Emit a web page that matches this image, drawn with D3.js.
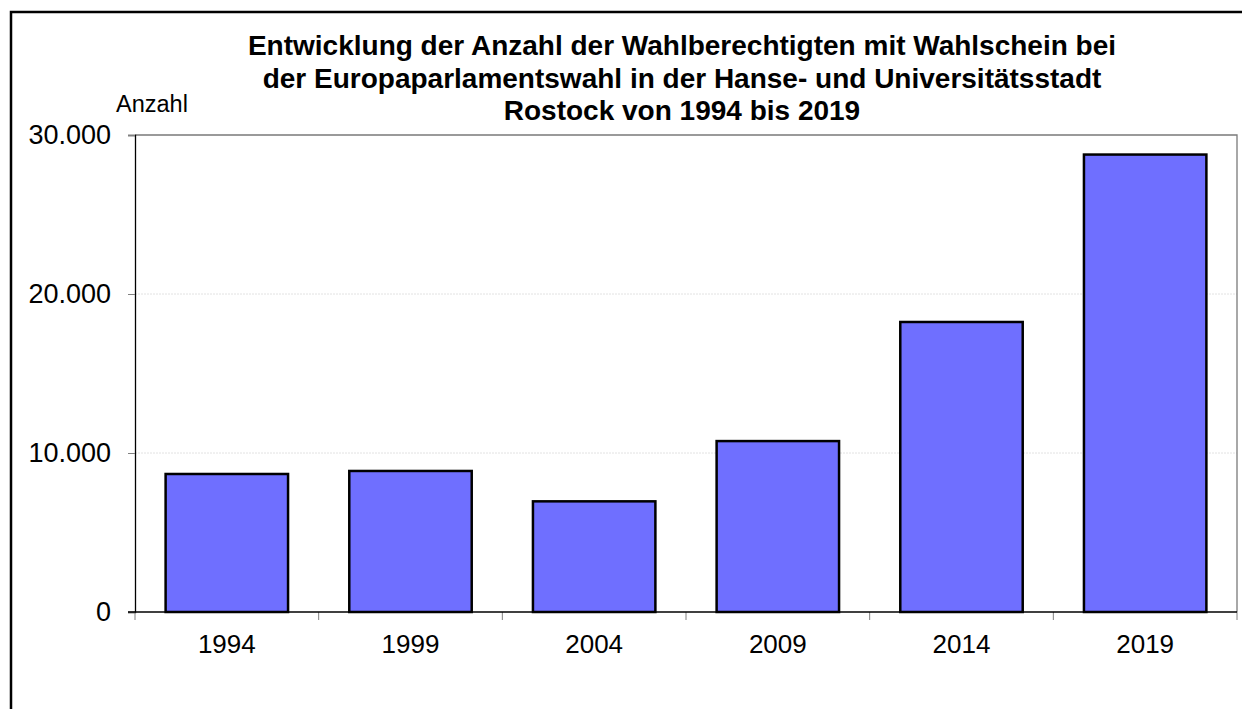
<!DOCTYPE html>
<html>
<head>
<meta charset="utf-8" />
<title>Wahlscheine Europawahl Rostock</title>
<style>
  body { margin: 0; background: #fff; }
  svg { display: block; font-family: "Liberation Sans", Arial, sans-serif; }
  .bar { fill: #6f6fff; stroke: #000; stroke-width: 2.5; }
  .grid line { stroke: #e2e2e2; stroke-dasharray: 2,1; }
  .axis text { fill: #000; }
  .y.axis text { font-size: 27px; }
  .x.axis text { font-size: 26px; }
</style>
</head>
<body>
<div id="chart"></div>
<script src="https://cdn.jsdelivr.net/npm/d3@7"></script>
<script>
// data
var years = ["1994", "1999", "2004", "2009", "2014", "2019"];
var values = [8680, 8870, 6960, 10750, 18240, 28770];
var yTicks = [0, 10000, 20000, 30000];
var titleLines = [
  "Entwicklung der Anzahl der Wahlberechtigten mit Wahlschein bei",
  "der Europaparlamentswahl in der Hanse- und Universitätsstadt",
  "Rostock von 1994 bis 2019"
];

var W = 1242, H = 709;
var plot = {left: 135, top: 135, right: 1237, bottom: 612};

var de = d3.formatLocale({decimal: ",", thousands: ".", grouping: [3], currency: ["", " €"]});
var fmt = de.format(",");

var svg = d3.select("#chart").append("svg")
    .attr("width", W)
    .attr("height", H);

// outer frame (runs off the picture on right and bottom)
svg.append("rect")
    .attr("x", 11).attr("y", 12)
    .attr("width", 1300).attr("height", 800)
    .attr("fill", "none")
    .attr("stroke", "#000")
    .attr("stroke-width", 2.5);

var x = d3.scaleBand()
    .domain(years)
    .range([plot.left, plot.right])
    .paddingInner(1 / 3)
    .paddingOuter(1 / 6);

var xEdge = d3.scaleBand()
    .domain(years)
    .range([plot.left, plot.right]);

var y = d3.scaleLinear()
    .domain([0, 30000])
    .range([plot.bottom, plot.top]);

// gridlines
svg.append("g")
    .attr("class", "grid")
    .selectAll("line")
    .data(yTicks.slice(1, 3))
    .join("line")
    .attr("x1", plot.left).attr("x2", plot.right)
    .attr("y1", d => y(d)).attr("y2", d => y(d));

// plot border top & right
svg.append("path")
    .attr("d", "M" + plot.left + "," + y(30000) + "H" + plot.right + "V" + plot.bottom)
    .attr("fill", "none")
    .attr("stroke", "#7a7a7a")
    .attr("stroke-width", 1.3);

// bars
svg.append("g")
    .selectAll("rect")
    .data(values)
    .join("rect")
    .attr("class", "bar")
    .attr("x", (d, i) => x(years[i]))
    .attr("y", d => y(d))
    .attr("width", x.bandwidth())
    .attr("height", d => y(0) - y(d));

// y axis
var yAxis = svg.append("g")
    .attr("class", "y axis")
    .attr("transform", "translate(" + plot.left + ",0)")
    .call(d3.axisLeft(y).tickValues(yTicks).tickFormat(fmt).tickSize(7).tickPadding(17));
yAxis.select(".domain").attr("stroke", "#000").attr("stroke-width", 1.3);
yAxis.selectAll(".tick line").attr("stroke", "#808080");

// x axis: labels centred, ticks at category edges
var xAxis = svg.append("g")
    .attr("class", "x axis")
    .attr("transform", "translate(0," + plot.bottom + ")")
    .call(d3.axisBottom(x).tickSize(0).tickPadding(23));
xAxis.select(".domain").remove();

var edges = years.map(d => xEdge(d)).concat([plot.right]);
svg.append("g")
    .selectAll("line")
    .data(edges)
    .join("line")
    .attr("x1", d => d).attr("x2", d => d)
    .attr("y1", plot.bottom).attr("y2", plot.bottom + 8)
    .attr("stroke", "#808080");

svg.append("line")
    .attr("x1", plot.left - 7).attr("x2", plot.right)
    .attr("y1", plot.bottom).attr("y2", plot.bottom)
    .attr("stroke", "#000")
    .attr("stroke-width", 1.3);

// title
svg.append("text")
    .attr("text-anchor", "middle")
    .style("font-size", "28px")
    .style("font-weight", "bold")
    .selectAll("tspan")
    .data(titleLines)
    .join("tspan")
    .attr("x", 682)
    .attr("y", (d, i) => 55 + i * 32.5)
    .text(d => d);

svg.append("text")
    .attr("x", 116)
    .attr("y", 111.5)
    .style("font-size", "23.5px")
    .text("Anzahl");
</script>
</body>
</html>
